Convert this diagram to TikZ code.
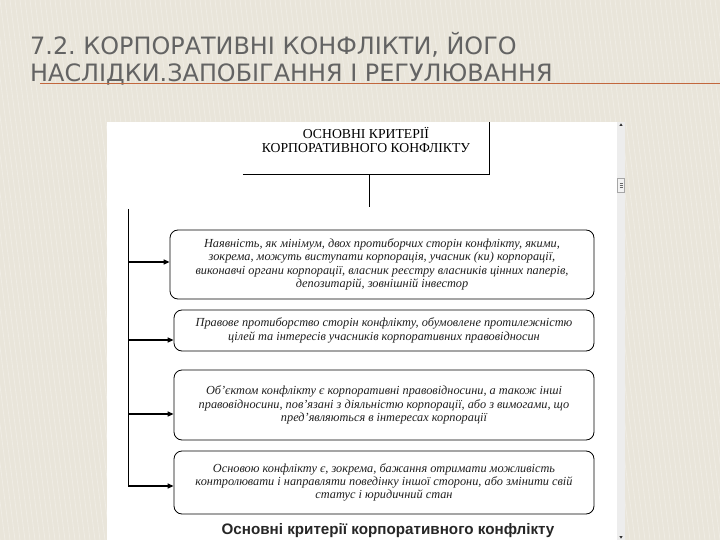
\documentclass[tikz,border=0pt]{standalone}
\usepackage{fontspec}
\setmainfont{Liberation Serif}
\newfontfamily\titlefont{DejaVu Sans}
\newfontfamily\capfont{Liberation Sans}
\usetikzlibrary{arrows.meta,calc}
\definecolor{bg}{HTML}{E9E5DA}
\definecolor{titlegray}{HTML}{636363}
\definecolor{rulecol}{HTML}{C2673D}
\definecolor{sbar}{HTML}{EDEDED}
\frenchspacing
\begin{document}
\begin{tikzpicture}[x=1pt,y=-1pt,
  crit/.style={draw=black, line width=0.8pt, rounded corners=8pt, align=center,
    inner sep=0pt, text=black!88, font=\fontsize{12.3}{13.2}\selectfont\itshape},
  arr/.style={line width=1.3pt, -{Triangle[length=6pt,width=5pt]}},
  wire/.style={line width=1pt},
  titletext/.style={anchor=base west, inner sep=0pt, text=titlegray,
    font=\titlefont\fontsize{23.9}{29}\selectfont}]
\useasboundingbox (0,0) rectangle (720,540);
\fill[bg] (0,0) rectangle (720,540);
\foreach \i in {-80,-75,...,720} \draw[white,opacity=0.28,line width=0.8pt] (\i,0) -- (\i+70,540);
% title
\node[titletext] (t1) at (30,55) {7.2. КОРПОРАТИВНІ КОНФЛІКТИ, ЙОГО};
\node[titletext] (t2) at (30,82) {НАСЛІДКИ.ЗАПОБІГАННЯ І РЕГУЛЮВАННЯ};
\draw[rulecol, line width=1.6pt] (40,83.5) -- (720,83.5);
% panel
\fill[white] (107,122) rectangle (617,540);
\coordinate (ptop) at (0,122);
% scrollbar
\fill[sbar] (617,122) rectangle (625,540);
\draw[gray!70, fill=sbar!70!white, line width=0.5pt] (617.5,178) rectangle (624.5,192);
\foreach \yy in {183,185,187} \draw[gray!80!black, line width=0.4pt] (619.5,\yy) -- (622.5,\yy);
\fill[black!80] (619.3,126) -- (622.7,126) -- (621,123.3) -- cycle;
\fill[black!80] (619.3,536) -- (622.7,536) -- (621,538.7) -- cycle;
% top box
\node[minimum width=246pt, minimum height=68pt, inner sep=0pt, align=center,
  font=\fontsize{13.7}{14.4}\selectfont] (top) at (366,140)
  {ОСНОВНІ КРИТЕРІЇ\\КОРПОРАТИВНОГО КОНФЛІКТУ};
\draw[wire] (top.south west) -- (top.south east) -- (top.south east |- ptop);
\coordinate (tj) at (369,207);
\draw[wire] (top.south -| tj) -- (tj);
% criteria boxes
\node[crit, minimum width=424pt, minimum height=69pt] (c1) at (382,264.5)
  {Наявність, як мінімум, двох протиборчих сторін конфлікту, якими,\\
   зокрема, можуть виступати корпорація, учасник (ки) корпорації,\\
   виконавчі органи корпорації, власник реєстру власників цінних паперів,\\
   депозитарій, зовнішній інвестор};
\node[crit, minimum width=420pt, minimum height=41pt] (c2) at (384,330.5)
  {Правове протиборство сторін конфлікту, обумовлене протилежністю\\
   цілей та інтересів учасників корпоративних правовідносин};
\node[crit, minimum width=420pt, minimum height=70pt] (c3) at (384,405)
  {Об'єктом конфлікту є корпоративні правовідносини, а також інші\\
   правовідносини, пов'язані з діяльністю корпорації, або з вимогами, що\\
   пред'являються в інтересах корпорації};
\node[crit, minimum width=420pt, minimum height=63pt] (c4) at (384,482.5)
  {Основою конфлікту є, зокрема, бажання отримати можливість\\
   контролювати і направляти поведінку іншої сторони, або змінити свій\\
   статус і юридичний стан};
% bus and arrows
\coordinate (bt) at (128,209);
\coordinate (bb) at (128,486);
\draw[wire] (bt) -- (bb);
\coordinate (a1) at (128,262);
\coordinate (a2) at (128,340);
\coordinate (a3) at (128,414);
\draw[arr] (a1) -- (a1 -| c1.west);
\draw[arr] (a2) -- (a2 -| c2.west);
\draw[arr] (a3) -- (a3 -| c3.west);
\draw[arr] (bb) -- (bb -| c4.west);
% caption
\node[font=\capfont\bfseries\fontsize{15.2}{17}\selectfont, text=black!85, inner sep=0pt]
  (cap) at (388,531) {Основні критерії корпоративного конфлікту};
\end{tikzpicture}
\end{document}
